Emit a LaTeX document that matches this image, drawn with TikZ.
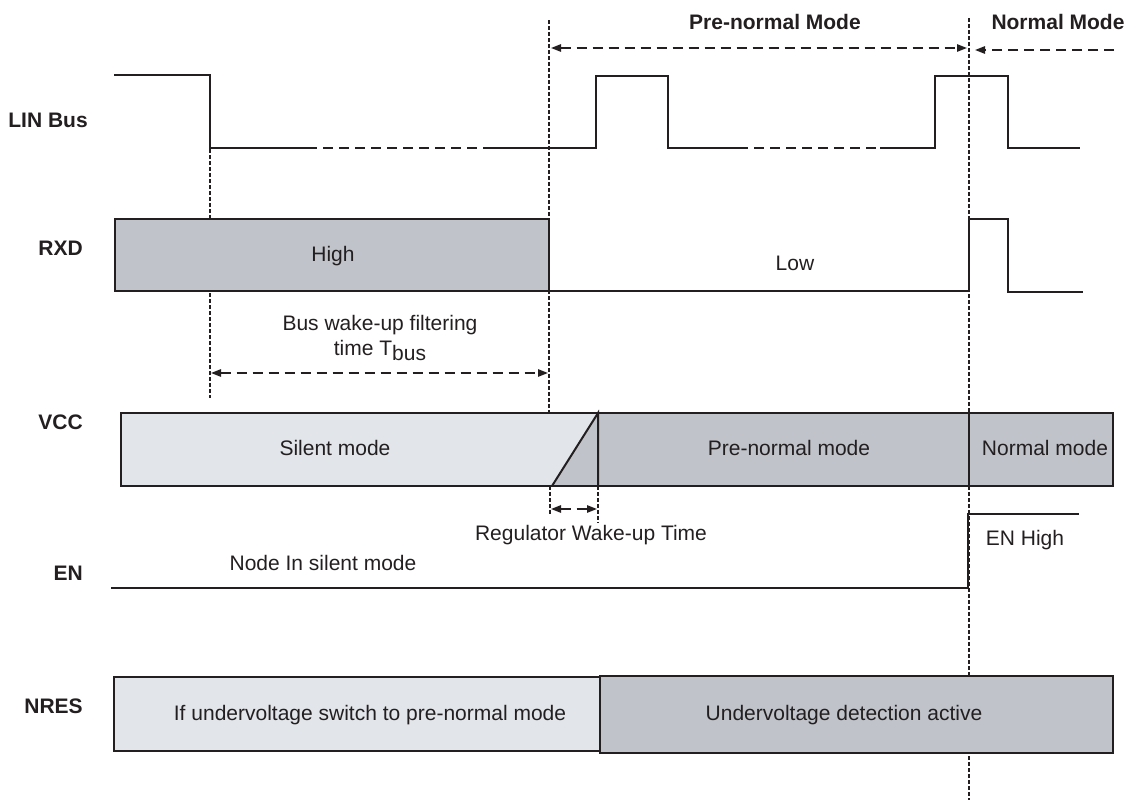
\documentclass[tikz,border=0pt]{standalone}
\usepackage{fontspec}
\setmainfont{Liberation Sans}
\usetikzlibrary{arrows, arrows.meta, positioning}
\definecolor{sigline}{HTML}{231F20}
\definecolor{modegray}{HTML}{C0C3CA}
\definecolor{modelight}{HTML}{E2E5E9}

\begin{document}
\begin{tikzpicture}[x=0.75pt, y=-0.75pt, >={Triangle[length=7.5pt,width=5.5pt]}]
\tikzstyle{signal} = [draw=sigline, line width=1.5pt]
\tikzstyle{sigdash} = [draw=sigline, line width=1.5pt, dash pattern=on 7.5pt off 4.5pt]
\tikzstyle{timemark} = [draw=sigline, line width=0.9pt, dash pattern=on 3pt off 1.5pt]
\tikzstyle{spanarrow} = [draw=sigline, line width=1.2pt, dash pattern=on 7.5pt off 4.5pt]
\tikzstyle{modebox} = [draw=sigline, line width=1.5pt, fill=modegray]
\tikzstyle{silentbox} = [draw=sigline, line width=1.5pt, fill=modelight]
\tikzstyle{siglabel} = [font=\fontsize{15.75}{18}\selectfont\bfseries, text=sigline, anchor=east, inner sep=0pt]
\tikzstyle{heading} = [font=\fontsize{15.75}{18}\selectfont\bfseries, text=sigline, inner sep=0pt]
\tikzstyle{txt} = [font=\fontsize{15.75}{18.75}\selectfont, text=sigline, inner sep=0pt, align=center]

\useasboundingbox (0,0) rectangle (1133,811);

% time markers
\draw[timemark] (210,149) -- (210,398);
\draw[timemark] (549,20) -- (549,412);
\draw[timemark] (969,18) -- (969,800);
\draw[timemark] (550,486) -- (550,516);
\draw[timemark] (598,486) -- (598,523);

% mode arrows
\coordinate (pnl) at (551,48);
\coordinate (pnr) at (967,48);
\coordinate (nml) at (975,50);
\coordinate (nmr) at (1114,50);
\draw[spanarrow, <->] (pnl) -- (pnr);
\draw[spanarrow, ->] (nmr) -- (nml);
\node[heading] (prenormal) at (775,22) {Pre-normal Mode};
\node[heading] (normal) at (1058,22) {Normal Mode};

% signal names
\node[siglabel] (lin) at (88,120) {LIN Bus};
\node[siglabel] (rxd) at (83,248) {RXD};
\node[siglabel] (vcc) at (83,422) {VCC};
\node[siglabel] (en) at (83,573) {EN};
\node[siglabel] (nres) at (83,706) {NRES};

% LIN bus
\draw[signal] (114,75) -- (210,75) -- (210,148) -- (307,148);
\draw[sigdash] (307,148) -- (493,148);
\draw[signal] (493,148) -- (596,148) -- (596,76) -- (668,76) -- (668,148) -- (738,148);
\draw[sigdash] (738,148) -- (880,148);
\draw[signal] (880,148) -- (935,148) -- (935,76) -- (1008,76) -- (1008,148) -- (1080,148);

% RXD
\draw[modebox] (115,219) rectangle (549,291);
\draw[signal] (549,291) -- (969,291) -- (969,219) -- (1008,219) -- (1008,292) -- (1083,292);
\node[txt] (high) at (333,256) {High};
\node[txt] (low) at (795,263) {Low};

% bus wake-up filtering time
\coordinate (tbl) at (211,373);
\coordinate (tbr) at (548,373);
\draw[spanarrow, <->] (tbl) -- (tbr);
\node[txt] (tbus) at (380,338) {Bus wake-up filtering\\time T\raisebox{-0.4ex}{bus}};

% VCC
\fill[modelight] (121,413) -- (598,413) -- (552,486) -- (121,486) -- cycle;
\fill[modegray] (598,413) -- (1113,413) -- (1113,486) -- (552,486) -- cycle;
\draw[signal] (121,413) rectangle (1113,486);
\draw[signal] (552,486) -- (598,413) -- (598,486);
\draw[signal] (969,413) -- (969,486);
\node[txt] (silent) at (335,448) {Silent mode};
\node[txt] (prevcc) at (789,448) {Pre-normal mode};
\node[txt] (normvcc) at (1045,448) {Normal mode};

% regulator wake-up time
\coordinate (rgl) at (551,509);
\coordinate (rgr) at (597,509);
\draw[spanarrow, <->] (rgl) -- (rgr);
\node[txt] (regwake) at (591,535) {Regulator Wake-up Time};

% EN
\draw[signal] (111,588) -- (968,588) -- (968,514) -- (1079,514);
\node[txt] (ensilent) at (323,563) {Node In silent mode};
\node[txt] (enhigh) at (1025,540) {EN High};

% NRES
\draw[silentbox] (114,677) rectangle (600,751);
\draw[modebox] (600,676) rectangle (1113,753);
\node[txt] (uvswitch) at (370,715) {If undervoltage switch to pre-normal mode};
\node[txt] (uvactive) at (844,715) {Undervoltage detection active};

\end{tikzpicture}
\end{document}
